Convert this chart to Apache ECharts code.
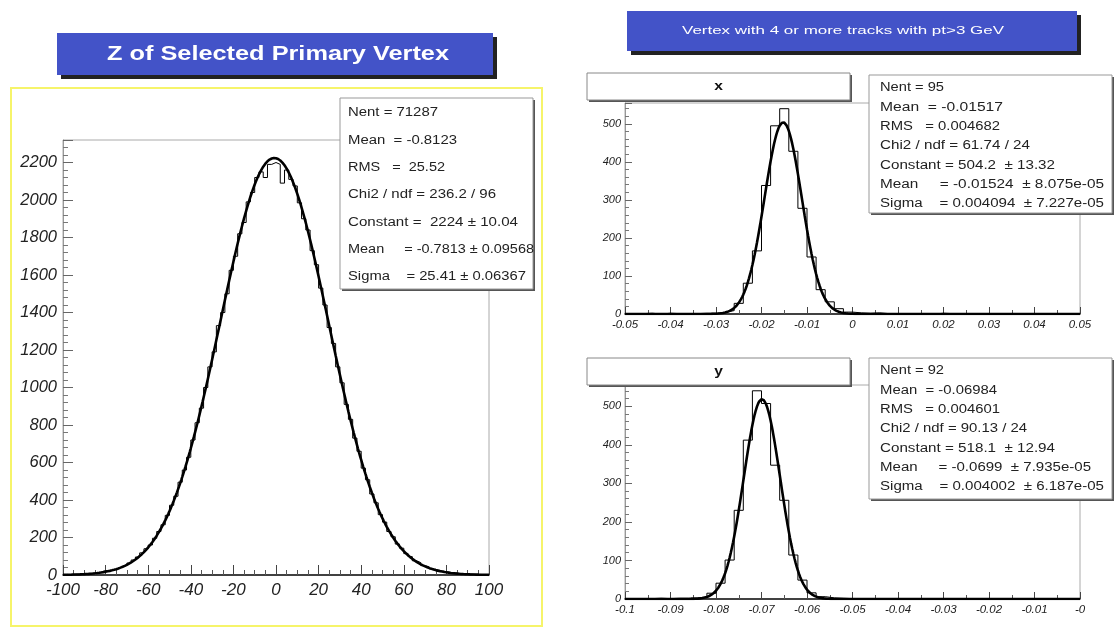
<!DOCTYPE html>
<html>
<head>
<meta charset="utf-8">
<script src="https://cdn.jsdelivr.net/npm/echarts@6/dist/echarts.min.js"></script>
<style>
html,body{margin:0;padding:0;background:#fff;}
#chart{width:1115px;height:629px;}
</style>
</head>
<body>
<div id="chart"></div>
<script>
// ---- Z of selected primary vertex: 100 bins of width 2 from -100 to 100 ----
const zBinLow = -100;
const zBinWidth = 2;
const zCounts = [
  3, 2, 4, 5, 6, 8, 9, 12, 16, 24,
  22, 28, 35, 44, 52, 64, 80, 96, 118, 140,
  160, 196, 232, 268, 318, 372, 420, 495, 560, 628,
  720, 812, 890, 1000, 1110, 1190, 1330, 1400, 1500, 1625,
  1700, 1820, 1880, 1990, 2040, 2120, 2150, 2120, 2190, 2200,
  2190, 2090, 2160, 2110, 2075, 1985, 1900, 1840, 1730, 1655,
  1530, 1440, 1320, 1235, 1110, 1025, 910, 830, 730, 660,
  570, 508, 432, 385, 322, 282, 232, 204, 165, 143,
  114, 98, 76, 66, 50, 43, 32, 28, 22, 18,
  14, 12, 9, 7, 6, 5, 3, 3, 2, 2
];
const zFit = [2224, -0.7813, 25.41];          // constant, mean, sigma
const zXLabels = ['-100','-80','-60','-40','-20','0','20','40','60','80','100'];
const zYLabels = ['0','200','400','600','800','1000','1200','1400','1600','1800','2000','2200'];
const zStats = ['Nent = 71287','Mean  = -0.8123','RMS   =  25.52','Chi2 / ndf = 236.2 / 96',
  'Constant =  2224 \u00b1 10.04','Mean     = -0.7813 \u00b1 0.09568','Sigma    = 25.41 \u00b1 0.06367'];

// ---- x of vertex: 50 bins of width 0.002 from -0.05 to 0.05 ----
const xBinLow = -0.05;
const xBinWidth = 0.002;
const xCounts = [
  0, 1, 2, 0, 2, 1, 0, 1, 2, 2,
  4, 9, 28, 81, 166, 338, 495, 540, 428, 278,
  150, 64, 32, 14, 5, 3, 2, 3, 1, 0,
  1, 0, 1, 0, 2, 1, 0, 0, 1, 0,
  0, 0, 0, 0, 0, 0, 0, 0, 0, 0
];
const xFit = [504.2, -0.01524, 0.004094];
const xXLabels = ['-0.05','-0.04','-0.03','-0.02','-0.01','0','0.01','0.02','0.03','0.04','0.05'];
const xStats = ['Nent = 95','Mean  = -0.01517','RMS   = 0.004682','Chi2 / ndf = 61.74 / 24',
  'Constant = 504.2  \u00b1 13.32','Mean     = -0.01524  \u00b1 8.075e-05','Sigma    = 0.004094  \u00b1 7.227e-05'];

// ---- y of vertex: 50 bins of width 0.002 from -0.1 to 0 ----
const yBinLow = -0.1;
const yBinWidth = 0.002;
const yCounts = [
  1, 0, 1, 2, 1, 2, 2, 3, 5, 15,
  41, 101, 230, 412, 540, 507, 347, 256, 114, 49,
  16, 6, 3, 2, 1, 1, 0, 1, 0, 1,
  0, 0, 1, 0, 0, 1, 0, 0, 0, 0,
  1, 0, 0, 0, 0, 0, 0, 0, 0, 0
];
const yFit = [518.1, -0.0699, 0.004002];
const yXLabels = ['-0.1','-0.09','-0.08','-0.07','-0.06','-0.05','-0.04','-0.03','-0.02','-0.01','-0'];
const smallYLabels = ['0','100','200','300','400','500'];
const yStats = ['Nent = 92','Mean  = -0.06984','RMS   = 0.004601','Chi2 / ndf = 90.13 / 24',
  'Constant = 518.1  \u00b1 12.94','Mean     = -0.0699  \u00b1 7.935e-05','Sigma    = 0.004002  \u00b1 6.187e-05'];

// histogram outline as a step polyline over the bin edges
function stepPoints(low, width, counts) {
  const pts = [[low, 0]];
  counts.forEach((c, i) => {
    pts.push([low + i * width, c]);
    pts.push([low + (i + 1) * width, c]);
  });
  pts.push([low + counts.length * width, 0]);
  return pts;
}
// fitted gaussian drawn from its fit parameters
function fitCurve(p, from, to, n) {
  const out = [];
  for (let i = 0; i <= n; i++) {
    const x = from + (to - from) * i / n;
    const d = (x - p[1]) / p[2];
    out.push([x, p[0] * Math.exp(-0.5 * d * d)]);
  }
  return out;
}
function labeler(labels, min, step) {
  return v => {
    const k = Math.round((v - min) / step);
    if (Math.abs(v - (min + k * step)) > step * 1e-3) return '';
    return labels[k] !== undefined ? labels[k] : '';
  };
}

const FONT = 'Liberation Sans, Arial, sans-serif';
const measureCtx = document.createElement('canvas').getContext('2d');
function textWidth(text, font) {
  measureCtx.font = font;
  return measureCtx.measureText(text).width;
}

const chart = echarts.init(document.getElementById('chart'), null, {renderer: 'canvas'});

function xAxisDef(idx, min, max, step, labels, fs, margin, minorSplit, big) {
  return {
    type: 'value', gridIndex: idx, min: min, max: max, interval: step,
    axisLine: {show: true, onZero: false, lineStyle: {color: '#111', width: 1.5}},
    axisTick: {show: true, inside: true, length: big ? 10 : 7, lineStyle: {color: '#444'}},
    minorTick: {show: true, splitNumber: minorSplit, length: big ? 5 : 4, lineStyle: {color: '#555'}},
    splitLine: {show: false},
    axisLabel: {formatter: labeler(labels, min, step), fontFamily: FONT, fontStyle: 'italic',
      fontSize: fs, color: '#222', margin: margin, showMinLabel: true, showMaxLabel: true}
  };
}
function yAxisDef(idx, max, step, labels, fs, margin, big) {
  return {
    type: 'value', gridIndex: idx, min: 0, max: max, interval: step,
    axisLine: {show: true, onZero: false, lineStyle: {color: '#999', width: 1}},
    axisTick: {show: true, inside: true, length: big ? 10 : 7, lineStyle: {color: '#666'}},
    minorTick: {show: true, splitNumber: 5, length: big ? 5 : 4, lineStyle: {color: '#777'}},
    splitLine: {show: false},
    axisLabel: {formatter: labeler(labels, 0, step), fontFamily: FONT, fontStyle: 'italic',
      fontSize: fs, color: '#222', margin: margin}
  };
}
function histSeries(idx, pts) {
  return {type: 'line', xAxisIndex: idx, yAxisIndex: idx, data: pts, showSymbol: false,
    symbol: 'none', lineStyle: {color: '#000', width: 1}, z: 3, animation: false};
}
function fitSeries(idx, pts) {
  return {type: 'line', xAxisIndex: idx, yAxisIndex: idx, data: pts, showSymbol: false,
    symbol: 'none', smooth: false, lineStyle: {color: '#000', width: 2.6}, z: 4, animation: false};
}

// boxes and their texts; each text line is stretched to the width it fills in its box
function titleBox(x, y, w, h, text, font, textW, cx) {
  const sx = textW / textWidth(text, font);
  return [
    {type: 'rect', shape: {x: x + 4, y: y + 4, width: w, height: h}, style: {fill: '#222'}, z: 50},
    {type: 'rect', shape: {x: x, y: y, width: w, height: h}, style: {fill: '#4353c8'}, z: 51},
    {type: 'text', x: cx, y: y + h / 2, scaleX: sx, z: 52,
      style: {text: text, fill: '#fff', font: font, align: 'center', verticalAlign: 'middle'}}
  ];
}
function paneTitle(x, y, w, h, text) {
  return [
    {type: 'rect', shape: {x: x + 2, y: y + 2, width: w, height: h}, style: {fill: '#555'}, z: 50},
    {type: 'rect', shape: {x: x, y: y, width: w, height: h}, style: {fill: '#fff', stroke: '#888', lineWidth: 1}, z: 51},
    {type: 'text', x: x + w / 2, y: y + h / 2, scaleX: 1.2, z: 52,
      style: {text: text, fill: '#111', font: 'bold 13px ' + FONT, align: 'center', verticalAlign: 'middle'}}
  ];
}
function statsBox(x, y, w, h, lines, widths, y0, dy, font, tx) {
  const els = [
    {type: 'rect', shape: {x: x + 2, y: y + 2, width: w, height: h}, style: {fill: '#555'}, z: 60},
    {type: 'rect', shape: {x: x, y: y, width: w, height: h}, style: {fill: '#fff', stroke: '#999', lineWidth: 1}, z: 61}
  ];
  lines.forEach((t, i) => {
    const sx = widths[i] / textWidth(t, font);
    els.push({type: 'text', x: tx, y: y0 + i * dy, scaleX: sx, z: 62,
      style: {text: t, fill: '#222', font: font, align: 'left', verticalAlign: 'middle'}});
  });
  return els;
}

const STAT_FONT = '12px ' + FONT;
const zStatWidths = [90, 109, 97, 148, 170, 186, 178];
const xStatWidths = [64, 123, 120, 150, 175, 224, 224];
const yStatWidths = [64, 117, 120, 147, 175, 211, 224];

const graphics = [].concat(
  [{type: 'rect', shape: {x: 11, y: 88, width: 531, height: 538},
    style: {fill: 'none', stroke: '#f6f46a', lineWidth: 2}, z: 40}],
  titleBox(57, 33, 436, 42, 'Z of Selected Primary Vertex', 'bold 21px ' + FONT, 342, 278),
  titleBox(627, 11, 450, 40, 'Vertex with 4 or more tracks with pt>3 GeV', '11px ' + FONT, 322, 843),
  statsBox(340, 98, 193, 191, zStats, zStatWidths, 113, 27.3, STAT_FONT, 348),
  paneTitle(587, 73, 263, 27, 'x'),
  statsBox(869, 75, 243, 138, xStats, xStatWidths, 88, 19.3, STAT_FONT, 880),
  paneTitle(587, 358, 263, 27, 'y'),
  statsBox(869, 358, 243, 141, yStats, yStatWidths, 371, 19.3, STAT_FONT, 880)
);

chart.setOption({
  animation: false,
  backgroundColor: '#fff',
  grid: [
    {left: 63, top: 140, width: 426, height: 435, show: true, borderColor: '#aaa', borderWidth: 1, backgroundColor: '#fff'},
    {left: 625, top: 103, width: 455, height: 211, show: true, borderColor: '#aaa', borderWidth: 1, backgroundColor: '#fff'},
    {left: 625, top: 385, width: 455, height: 214, show: true, borderColor: '#aaa', borderWidth: 1, backgroundColor: '#fff'}
  ],
  xAxis: [
    xAxisDef(0, -100, 100, 20, zXLabels, 17, 7, 4, true),
    xAxisDef(1, -0.05, 0.05, 0.01, xXLabels, 11.5, 5, 2, false),
    xAxisDef(2, -0.1, 0, 0.01, yXLabels, 11.5, 5, 2, false)
  ],
  yAxis: [
    yAxisDef(0, 2320, 200, zYLabels, 16.5, 6, true),
    yAxisDef(1, 555, 100, smallYLabels, 11, 4, false),
    yAxisDef(2, 555, 100, smallYLabels, 11, 4, false)
  ],
  series: [
    histSeries(0, stepPoints(zBinLow, zBinWidth, zCounts)),
    fitSeries(0, fitCurve(zFit, -100, 100, 400)),
    histSeries(1, stepPoints(xBinLow, xBinWidth, xCounts)),
    fitSeries(1, fitCurve(xFit, -0.05, 0.05, 400)),
    histSeries(2, stepPoints(yBinLow, yBinWidth, yCounts)),
    fitSeries(2, fitCurve(yFit, -0.1, 0, 400))
  ],
  graphic: graphics
});
</script>
</body>
</html>
